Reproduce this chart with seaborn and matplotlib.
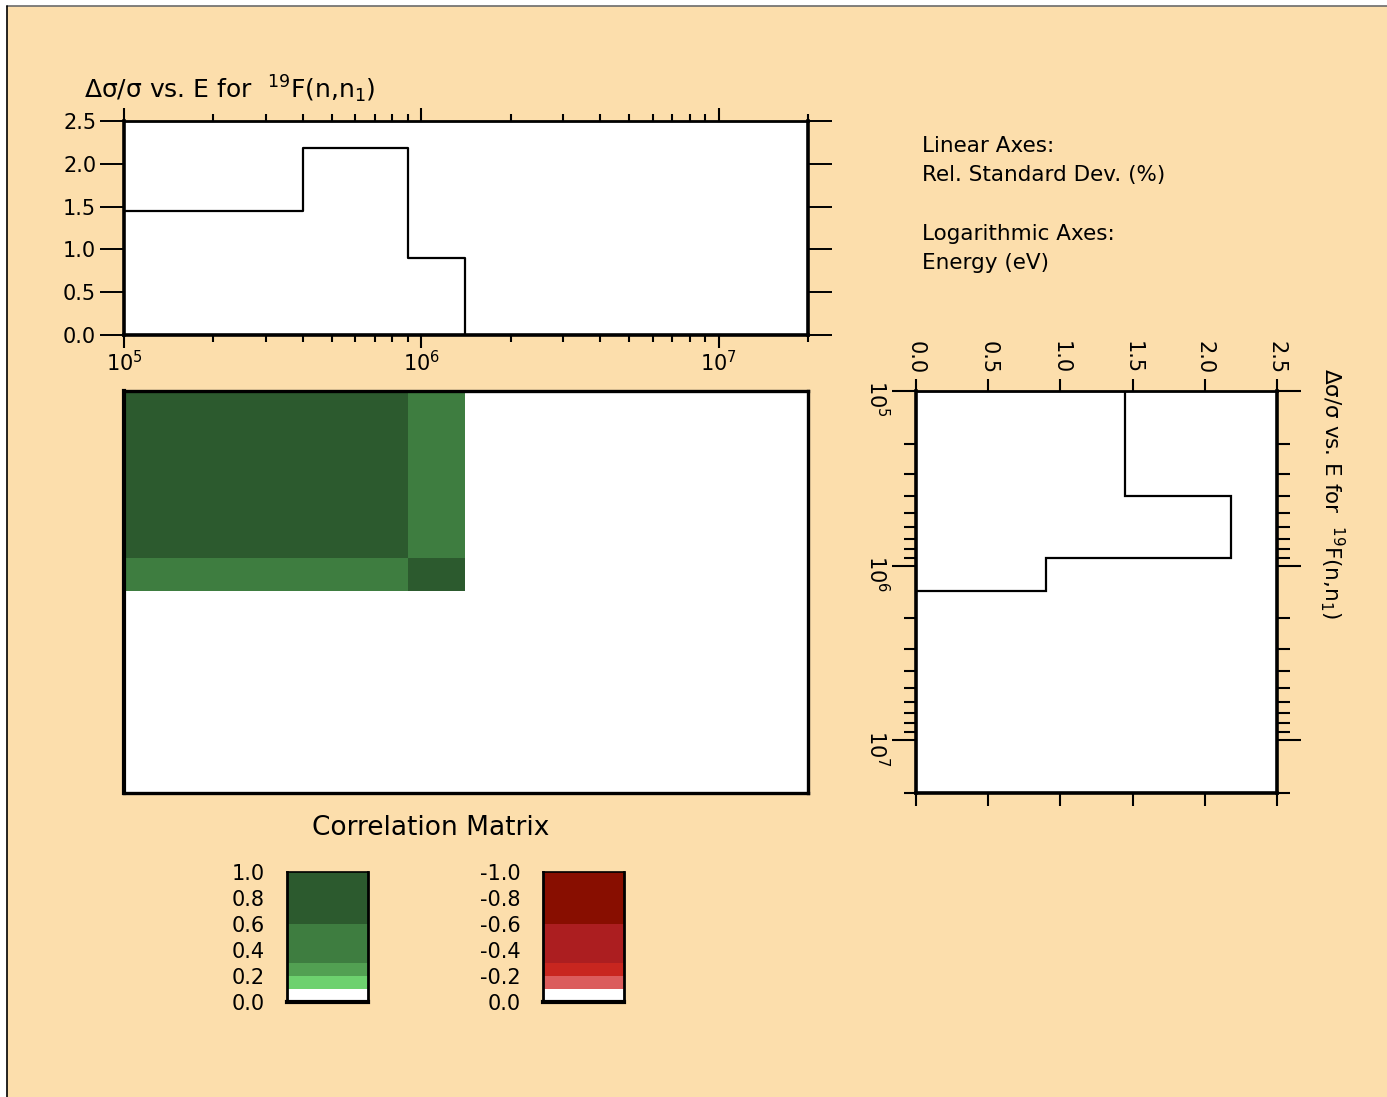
import numpy as np
import matplotlib
matplotlib.use("Agg")
import matplotlib.pyplot as plt
import seaborn as sns
from matplotlib.colors import ListedColormap, BoundaryNorm
from matplotlib.patches import Rectangle

# ---------------- data ----------------
energy_edges = [1e5, 4e5, 9e5, 1.4e6]          # eV, group boundaries
rel_std = [1.45, 2.18, 0.90]                    # relative standard deviation (%)
corr_edges = [1e5, 9e5, 1.4e6]                  # correlation matrix groups
corr_values = [[1.00, 0.45],
               [0.45, 1.00]]
level_bounds = [-1.0, -0.6, -0.3, -0.2, -0.1, 0.1, 0.2, 0.3, 0.6, 1.0]
level_colors = ['#880E00', '#AC1E20', '#C8261F', '#DB5C5C', '#FFFFFF',
                '#6DD16E', '#52A052', '#3E7D40', '#2C5A2E']
green_levels = [0.0, 0.1, 0.2, 0.3, 0.6, 1.0]
green_mid = [0.05, 0.15, 0.25, 0.45, 0.8]
red_levels = [0.0, -0.1, -0.2, -0.3, -0.6, -1.0]
red_mid = [-0.05, -0.15, -0.25, -0.45, -0.8]
bar_ticks_pos = [0.0, 0.2, 0.4, 0.6, 0.8, 1.0]
bar_ticks_neg = [0.0, -0.2, -0.4, -0.6, -0.8, -1.0]
bar_labels_pos = ['0.0', '0.2', '0.4', '0.6', '0.8', '1.0']
bar_labels_neg = ['0.0', '-0.2', '-0.4', '-0.6', '-0.8', '-1.0']
std_ticks = [0.0, 0.5, 1.0, 1.5, 2.0, 2.5]
std_labels = ['0.0', '0.5', '1.0', '1.5', '2.0', '2.5']
e_min, e_max = 1e5, 2e7

BG = '#FCDEAC'
TITLE = 'Δσ/σ vs. E for  $^{19}$F(n,n$_{1}$)'

sns.set_theme(style='ticks')
plt.rcParams['font.family'] = ['DejaVu Sans']
plt.rcParams['mathtext.fontset'] = 'dejavusans'
plt.rcParams['axes.edgecolor'] = 'black'
plt.rcParams['xtick.color'] = 'black'
plt.rcParams['ytick.color'] = 'black'
plt.rcParams['text.color'] = 'black'
plt.rcParams['axes.facecolor'] = 'white'

W, H = 1387, 1097
fig = plt.figure(figsize=(W / 100, H / 100), dpi=100, facecolor='white')
fig.patches.append(Rectangle((7 / W, 0), 1 - 7 / W, 1 - 6 / H, transform=fig.transFigure,
                             facecolor=BG, edgecolor='none', zorder=-10))
fig.add_artist(plt.Line2D([7 / W, 1], [1 - 6 / H, 1 - 6 / H], transform=fig.transFigure,
                          color='#6b6b6b', lw=1.2))
fig.add_artist(plt.Line2D([7 / W, 7 / W], [0, 1 - 6 / H], transform=fig.transFigure,
                          color='black', lw=1.2))


def fx(px):
    return px / W


def fy(py):
    return 1 - py / H


def box(l, t, r, b):
    return [fx(l), fy(b), fx(r) - fx(l), fy(t) - fy(b)]


TICKFS = 15

# ---------------- top panel ----------------
ax1 = fig.add_axes(box(124, 121, 808, 335))
ax1.set_xscale('log')
sns.lineplot(x=energy_edges, y=rel_std + [0.0], drawstyle='steps-post', color='black',
             lw=1.6, ax=ax1, legend=False)
ax1.set_xlim(e_min, e_max)
ax1.set_ylim(0, 2.5)
ax1.set_yticks(std_ticks)
ax1.set_yticklabels(std_labels, fontsize=TICKFS)
for s in ax1.spines.values():
    s.set_linewidth(2.6)
ax1.spines['top'].set_linewidth(2.0)
ax1.tick_params(axis='x', which='major', direction='out', top=True, bottom=True,
                length=9.5, width=1.5, labelsize=TICKFS, pad=1)
ax1.tick_params(axis='x', which='minor', direction='out', top=True, bottom=True,
                length=5, width=1.5)
ax1.tick_params(axis='y', which='major', direction='out', left=True, right=True,
                length=17, width=1.4, labelsize=TICKFS, pad=3)
ax1.tick_params(axis='y', which='minor', left=False, right=False)
ax1.set_xlabel('')
ax1.set_ylabel('')

fig.text(fx(84), fy(98), TITLE, fontsize=18, ha='left', va='baseline')

# ---------------- correlation matrix ----------------
cmap = ListedColormap(level_colors)
norm = BoundaryNorm(level_bounds, cmap.N)
ax2 = fig.add_axes(box(124, 391, 808, 793))
ax2.set_xscale('log')
ax2.set_yscale('log')
ax2.pcolormesh(corr_edges, corr_edges, np.array(corr_values), cmap=cmap, norm=norm)
ax2.set_xlim(e_min, e_max)
ax2.set_ylim(e_max, e_min)
ax2.set_xticks([])
ax2.set_yticks([])
ax2.minorticks_off()
ax2.tick_params(which='both', left=False, right=False, top=False, bottom=False,
                labelleft=False, labelbottom=False)
for s in ax2.spines.values():
    s.set_linewidth(2.4)
ax2.spines['left'].set_linewidth(3.0)

fig.text(fx(431), fy(835), 'Correlation Matrix', fontsize=19, ha='center', va='baseline')

# ---------------- right panel ----------------
ax3 = fig.add_axes(box(916, 391, 1277, 793))
ax3.set_yscale('log')
ax3.stairs(rel_std, energy_edges, orientation='horizontal', baseline=0,
           color='black', lw=1.6)
ax3.set_xlim(0, 2.5)
ax3.set_ylim(e_max, e_min)
ax3.set_xticks(std_ticks)
ax3.set_xticklabels(std_labels, rotation=-90, fontsize=TICKFS)
ax3.tick_params(axis='x', which='major', direction='out', top=True, bottom=True,
                labeltop=True, labelbottom=False, length=9, width=1.5, pad=3)
ax3.tick_params(axis='y', which='major', direction='out', left=True, right=True,
                length=17, width=1.5, labelsize=TICKFS, pad=2)
ax3.tick_params(axis='y', which='minor', direction='out', left=True, right=True,
                length=9, width=1.5)
for lab in ax3.get_yticklabels():
    lab.set_rotation(-90)
for s in ax3.spines.values():
    s.set_linewidth(2.6)
ax3.spines['top'].set_linewidth(2.0)
ax3.set_xlabel('')
ax3.set_ylabel('')

fig.text(fx(1332), fy(368), TITLE, fontsize=15.5, rotation=-90, ha='center', va='top')

# ---------------- notes ----------------
notes = [('Linear Axes:', 152), ('Rel. Standard Dev. (%)', 181),
         ('Logarithmic Axes:', 240), ('Energy (eV)', 269)]
for txt, yb in notes:
    fig.text(fx(922), fy(yb), txt, fontsize=15.5, ha='left', va='baseline')


# ---------------- color legend bars ----------------
def legend_bar(left, levels, mids, ticks, labels, invert):
    ax = fig.add_axes(box(left, 872, left + 81, 1002))
    ax.pcolormesh([0, 1], levels, np.array(mids).reshape(-1, 1), cmap=cmap, norm=norm)
    ax.set_xlim(0, 1)
    if invert:
        ax.set_ylim(0, -1)
    else:
        ax.set_ylim(0, 1)
    ax.set_xticks([])
    ax.set_yticks(ticks)
    ax.set_yticklabels(labels, fontsize=TICKFS)
    ax.tick_params(axis='y', length=0, pad=16)
    for s in ax.spines.values():
        s.set_linewidth(1.2)
    ax.spines['bottom'].set_linewidth(3)
    ax.spines['left'].set_linewidth(2)
    ax.spines['right'].set_linewidth(2)
    return ax


legend_bar(287, green_levels, green_mid, bar_ticks_pos, bar_labels_pos, False)
legend_bar(543, red_levels, red_mid, bar_ticks_neg, bar_labels_neg, True)

fig.savefig('out.png', dpi=100, facecolor=fig.get_facecolor())
